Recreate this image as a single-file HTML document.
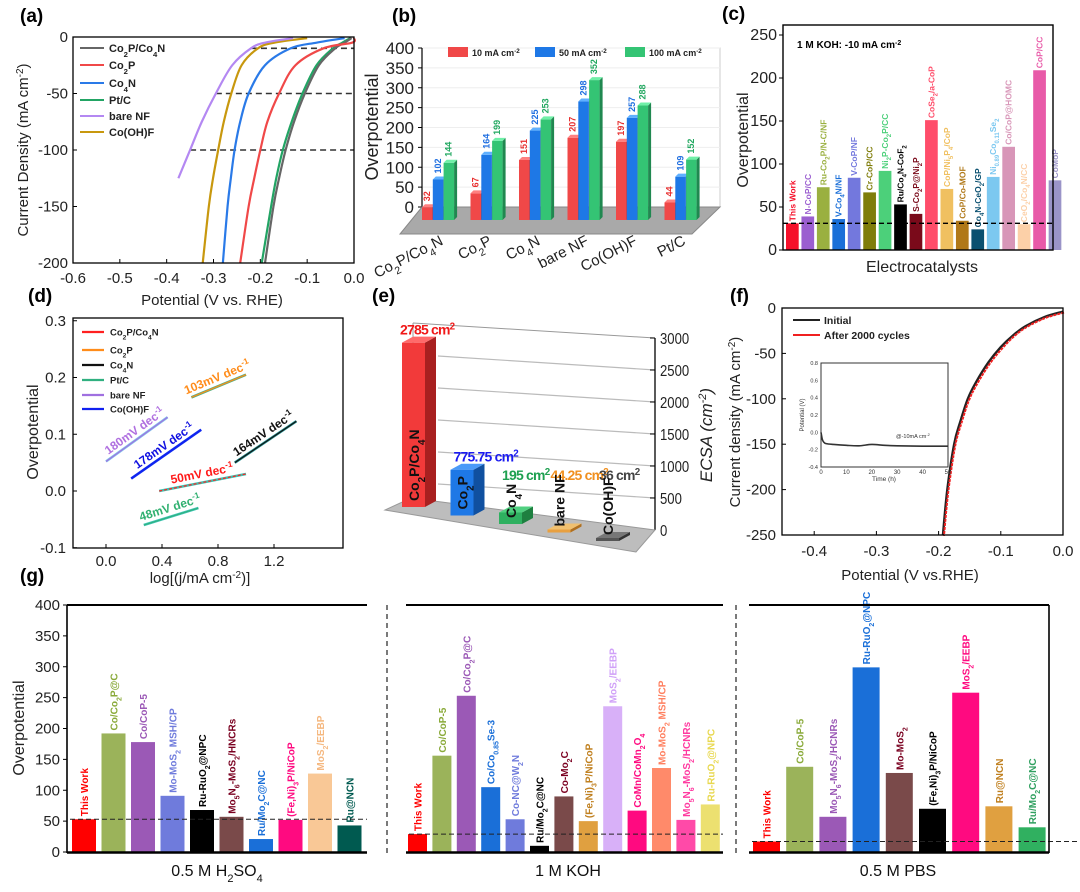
<!DOCTYPE html>
<html><head><meta charset="utf-8"><style>
html,body{margin:0;padding:0;background:#fff;}
svg{display:block;font-family:"Liberation Sans",Arial,sans-serif;}
</style></head><body>
<svg id="fig" width="1080" height="892" viewBox="0 0 1080 892" xmlns="http://www.w3.org/2000/svg">
<rect x="0" y="0" width="1080" height="892" fill="#fff"/>
<!-- panel labels -->
<text x="20" y="22" font-size="19" font-weight="bold">(a)</text>
<text x="392" y="22" font-size="19" font-weight="bold">(b)</text>
<text x="722" y="20" font-size="19" font-weight="bold">(c)</text>
<text x="28" y="302" font-size="19" font-weight="bold">(d)</text>
<text x="372" y="302" font-size="19" font-weight="bold">(e)</text>
<text x="730" y="302" font-size="19" font-weight="bold">(f)</text>
<text x="20" y="582" font-size="19" font-weight="bold">(g)</text>
<!-- axis titles -->
<text x="212" y="305" font-size="15" text-anchor="middle" fill="#222">Potential (V vs. RHE)</text>
<text transform="translate(28,150) rotate(-90)" font-size="15" text-anchor="middle" fill="#222">Current Density (mA cm<tspan baseline-shift="super" font-size="10">-2</tspan>)</text>
<text transform="translate(378,127) rotate(-90)" font-size="18" text-anchor="middle" fill="#222">Overpotential</text>
<text transform="translate(748,140) rotate(-90)" font-size="16" text-anchor="middle" fill="#222">Overpotential</text>
<text x="922" y="272" font-size="16" text-anchor="middle" fill="#222">Electrocatalysts</text>
<text x="797" y="48" font-size="10" font-weight="bold">1 M KOH: -10 mA cm<tspan baseline-shift="super" font-size="7">-2</tspan></text>
<text transform="translate(38,432) rotate(-90)" font-size="16" text-anchor="middle" fill="#222">Overpotential</text>
<text x="200" y="583" font-size="15" text-anchor="middle" fill="#222">log[(j/mA cm<tspan baseline-shift="super" font-size="10">-2</tspan>)]</text>
<text transform="translate(712,435) rotate(-90)" font-size="17" font-style="italic" text-anchor="middle" fill="#222">ECSA (cm<tspan baseline-shift="super" font-size="11">-2</tspan>)</text>
<text transform="translate(740,422) rotate(-90)" font-size="15" text-anchor="middle" fill="#222">Current density (mA cm<tspan baseline-shift="super" font-size="10">-2</tspan>)</text>
<text x="910" y="580" font-size="15" text-anchor="middle" fill="#222">Potential (V vs.RHE)</text>
<text transform="translate(24,728) rotate(-90)" font-size="16" text-anchor="middle" fill="#222">Overpotential</text>
<text x="217" y="876" font-size="16" text-anchor="middle" fill="#111">0.5 M H<tspan baseline-shift="sub" font-size="11">2</tspan>SO<tspan baseline-shift="sub" font-size="11">4</tspan></text>
<text x="568" y="876" font-size="16" text-anchor="middle" fill="#111">1 M KOH</text>
<text x="898" y="876" font-size="16" text-anchor="middle" fill="#111">0.5 M PBS</text>
</svg>
<script>
const NS='http://www.w3.org/2000/svg';
const svg=document.getElementById('fig');
function mk(tag,attrs,parent){const e=document.createElementNS(NS,tag);for(const k in attrs)e.setAttribute(k,attrs[k]);(parent||svg).appendChild(e);return e;}
function rich(el,s){const re=/([_^])(\{[^}]*\}|.)/g;let last=0,m;
 function add(t,mode){const ts=document.createElementNS(NS,'tspan');ts.textContent=t;if(mode){ts.setAttribute('baseline-shift',mode>0?'sub':'super');ts.setAttribute('font-size','70%');}el.appendChild(ts);}
 while((m=re.exec(s))){if(m.index>last)add(s.slice(last,m.index),0);let v=m[2];if(v[0]==='{')v=v.slice(1,-1);add(v,m[1]==='_'?1:-1);last=re.lastIndex;}
 if(last<s.length)add(s.slice(last),0);return el;}
function txt(x,y,s,attrs,parent){const t=mk('text',Object.assign({x:x,y:y},attrs||{}),parent);rich(t,s);return t;}
function smooth(pts){let d='M'+pts[0][0]+','+pts[0][1];for(let i=0;i<pts.length-1;i++){const p0=pts[i-1]||pts[i],p1=pts[i],p2=pts[i+1],p3=pts[i+2]||p2;
 d+=' C'+(p1[0]+(p2[0]-p0[0])/6)+','+(p1[1]+(p2[1]-p0[1])/6)+' '+(p2[0]-(p3[0]-p1[0])/6)+','+(p2[1]-(p3[1]-p1[1])/6)+' '+p2[0]+','+p2[1];}return d;}

/* ================= Panel (a) data ================= */
const aNames=['Co_2P/Co_4N','Co_2P','Co_4N','Pt/C','bare NF','Co(OH)F'];
const aJ=[-1,-5,-10,-25,-50,-75,-100,-125,-150,-200];
const aCo2PCo4N=[-0.005,-0.02,-0.04,-0.075,-0.105,-0.128,-0.146,-0.16,-0.172,-0.19];
const aCo2P=[0.0,-0.004,-0.065,-0.125,-0.16,-0.185,-0.2,-0.213,-0.225,-0.243];
const aCo4N=[-0.02,-0.08,-0.135,-0.19,-0.225,-0.243,-0.255,-0.263,-0.27,-0.28];
const aPtC=[-0.008,-0.025,-0.045,-0.08,-0.11,-0.133,-0.152,-0.166,-0.177,-0.197];
const aBareNF=[-0.13,-0.19,-0.22,-0.26,-0.295,-0.325,-0.35,-0.375,null,null];
const aCoOHF=[-0.1,-0.17,-0.205,-0.24,-0.262,-0.278,-0.29,-0.301,-0.31,-0.323];
const aRefLevels=[-10,-50,-100];
const aRefStart=[-0.22,-0.295,-0.35];
const aXTicks=[-0.6,-0.5,-0.4,-0.3,-0.2,-0.1,0.0];
const aYTicks=[0,-50,-100,-150,-200];
(function(){
 const ax=v=>73+(v+0.6)/0.6*281, ay=j=>37+(-j)/200*226;
 const series=[aCo2PCo4N,aCo2P,aCo4N,aPtC,aBareNF,aCoOHF];
 const cols=['#666','#f04848','#2a7ae8','#22a464','#b488f2','#c8980e'];
 const g=mk('g',{});
 
 
 aRefLevels.forEach((lv,i)=>{const l=mk('line',{x1:ax(aRefStart[i]),x2:ax(0),y1:ay(lv),y2:ay(lv),stroke:'#333','stroke-width':1.6,'stroke-dasharray':'6,4'},g);
  
  });
 [3,0,1,2,5,4].forEach(si=>{const pts=[];series[si].forEach((v,k)=>{if(v!==null)pts.push([ax(v),ay(aJ[k])]);});
  const p=mk('path',{d:smooth(pts),fill:'none',stroke:cols[si],'stroke-width':2.2},g);
  
  });
 const fr=mk('rect',{x:73,y:37,width:281,height:226,fill:'none',stroke:'#000','stroke-width':1.3},g);
 
 
 aXTicks.forEach(v=>{mk('line',{x1:ax(v),x2:ax(v),y1:263,y2:259,stroke:'#000'},g);
  const t=txt(ax(v),283,v.toFixed(1),{'font-size':15,'text-anchor':'middle',fill:'#222'},g);
  
  });
 aYTicks.forEach(v=>{mk('line',{x1:73,x2:77,y1:ay(v),y2:ay(v),stroke:'#000'},g);
  const t=txt(68,ay(v)+5,String(v),{'font-size':15,'text-anchor':'end',fill:'#222'},g);
  
  });
 const ly=[48,65,83,100,116,132];
 aNames.forEach((n,i)=>{const l=mk('line',{x1:80,x2:104,y1:ly[i],y2:ly[i],stroke:cols[i],'stroke-width':2},g);
  
  
  const t=txt(109,ly[i]+4,n,{'font-size':11,'font-weight':'bold',fill:'#222'},g);
  
  });
})();

/* ================= Panel (b) data ================= */
const bCategories=['Co_2P/Co_4N','Co_2P','Co_4N','bare NF','Co(OH)F','Pt/C'];
const b10=[32,67,151,207,197,44];
const b50=[102,164,225,298,257,109];
const b100=[144,199,253,352,288,152];
const bSeriesNames=['10 mA cm^{-2}','50 mA cm^{-2}','100 mA cm^{-2}'];
const bYTicks=[0,50,100,150,200,250,300,350,400];
(function(){
 const g=mk('g',{});
 
 
 const base=220,k=0.3975;
 mk('rect',{x:422,y:48,width:298,height:159,fill:'none',stroke:'#ccc','stroke-width':1},g);
 bYTicks.forEach(v=>{const y=207-v*k;mk('line',{x1:422,x2:720,y1:y,y2:y,stroke:'#eee'},g);mk('line',{x1:418,x2:422,y1:y,y2:y,stroke:'#000'},g);
  const t=txt(414,y+6,String(v),{'font-size':17,'text-anchor':'end',fill:'#222'},g);
  
  });
 mk('line',{x1:422,x2:422,y1:48,y2:207,stroke:'#000','stroke-width':1.2},g);
 const fl=mk('polygon',{points:'422,207 720,207 692,234 400,234',fill:'#a9a9a9',stroke:'#888'},g);
 
 
 const sets=[b10,b50,b100];
 const fc=['#f04848','#1e78e6','#34c474'],sc=['#b82828','#1252a8','#208850'],tc=['#ff8080','#5fb0ff','#70f0a8'];
 const lc=['#e83030','#1e6ee0','#22a860'];
 bCategories.forEach((c,i)=>{const gx=422+i*48.5;
  sets.forEach((arr,j)=>{const x=gx+j*10.8,w=10.5,h=arr[i]*k,top=base-h;
   const r=mk('rect',{x:x,y:top,width:w,height:h,fill:fc[j]},g);
   
   
   mk('polygon',{points:`${x+w},${top} ${x+w+3},${top-3} ${x+w+3},${base-3} ${x+w},${base}`,fill:sc[j]},g);
   mk('polygon',{points:`${x},${top} ${x+3},${top-3} ${x+w+3},${top-3} ${x+w},${top}`,fill:tc[j]},g);
   const t=txt(0,0,String(arr[i]),{'font-size':9,'font-weight':'bold',fill:lc[j],transform:`translate(${x+8},${top-6}) rotate(-90)`},g);
   
   });
  const t=txt(0,0,c,{'font-size':15,'text-anchor':'end',fill:'#222',transform:`translate(${gx+22},${244}) rotate(-27)`},g);
  
  });
 const lx=[448,535,625];
 bSeriesNames.forEach((n,j)=>{const r=mk('rect',{x:lx[j],y:47,width:20,height:10,fill:fc[j]},g);
  
  
  const t=txt(lx[j]+24,56,n,{'font-size':9,'font-weight':'bold',fill:'#222'},g);
  
  });
})();

/* ================= Panel (c) data ================= */
const cNames=['This Work','N-CoP/CC','Ru-Co_2P/N-C/NF','V-Co_4N/NF','V-CoP/NF','Cr-CoP/CC','Ni_2P-Co_2P/CC','Ru/Co_4N-CoF_2','S-Co_2P@Ni_2P','CoSe_2/a-CoP','CoP/Ni_5P_4/CoP','CoP/Co-MOF','Co_4N-CeO_2/GP','Ni_{0.89}Co_{0.11}Se_2','Co/CoP@HOMC','CeO_2/Co_4N/CC','CoP/CC','CoMoP'];
const cValues=[31,39,73,36,84,67,92,53,42,151,71,34,24,85,120,30,209,81];
const cColors=['#f5102a','#9b5fd0','#9ab040','#1a6fd8','#7378dd','#7f7d0a','#4cd07a','#000000','#7a0a1a','#ff4d6a','#f0c060','#b07818','#0a5070','#7cc8f0','#d896b8','#fcd0a8','#e85aa8','#9a94c8'];
const cRef=31;
const cYTicks=[0,50,100,150,200,250];
(function(){
 const g=mk('g',{});
 
 
 const cy=v=>250-v*0.86;
 cNames.forEach((n,i)=>{const x=786+i*15.45,w=12.7,y=cy(cValues[i]);
  const r=mk('rect',{x:x,y:y,width:w,height:250-y,fill:cColors[i]},g);
  
  
  const t=txt(0,0,n,{'font-size':8.5,'font-weight':'bold',fill:cColors[i],transform:`translate(${x+w/2+3},${y-2}) rotate(-90)`},g);
  
  });
 const d=mk('line',{x1:783,x2:1053,y1:cy(cRef),y2:cy(cRef),stroke:'#000','stroke-width':1.4,'stroke-dasharray':'5,3'},g);
 
 
 const fr=mk('rect',{x:783,y:25,width:270,height:225,fill:'none',stroke:'#000','stroke-width':1.4},g);
 
 
 cYTicks.forEach(v=>{mk('line',{x1:779,x2:783,y1:cy(v),y2:cy(v),stroke:'#000'},g);
  const t=txt(777,cy(v)+5,String(v),{'font-size':16,'text-anchor':'end',fill:'#222'},g);
  
  });
})();

/* ================= Panel (d) data ================= */
const dNames=['Co_2P/Co_4N','Co_2P','Co_4N','Pt/C','bare NF','Co(OH)F'];
const dSlopeLabels=['50mV dec^{-1}','103mV dec^{-1}','164mV dec^{-1}','48mV dec^{-1}','180mV dec^{-1}','178mV dec^{-1}'];
const dX1=[0.38,0.61,0.92,0.27,0.0,0.18];
const dY1=[0.0,0.165,0.05,-0.06,0.052,0.022];
const dX2=[1.0,1.0,1.36,0.66,0.44,0.68];
const dY2=[0.03,0.205,0.123,-0.03,0.13,0.108];
const dXTicks=[0.0,0.4,0.8,1.2];
const dYTicks=[-0.1,0.0,0.1,0.2,0.3];
(function(){
 const g=mk('g',{});
 
 
 const dx=v=>106+v*140, dy=v=>491-v*567.5;
 const lineCol=['#ff2020','#ff8c1a','#111','#30b080','#a070e0','#1020f0'];
 const fitCol=['#40c0b0','#50b080','#209090','#40c8b8','#80c8ec','#1030f0'];
 const labCol=['#ff1a1a','#ff8c1a','#111','#30b070','#b070e0','#1010e0'];
 dNames.forEach((n,i)=>{const x1=dx(dX1[i]),y1=dy(dY1[i]),x2=dx(dX2[i]),y2=dy(dY2[i]);
  const l=mk('line',{x1:x1,y1:y1,x2:x2,y2:y2,stroke:fitCol[i],'stroke-width':2.6},g);
  
  
  mk('line',{x1:x1,y1:y1,x2:x2,y2:y2,stroke:lineCol[i],'stroke-width':1.2,'stroke-dasharray':i===0?'3,2':''},g);
  const ang=Math.atan2(y2-y1,x2-x1)*180/Math.PI;
  const t=txt(0,0,dSlopeLabels[i],{'font-size':12,'font-weight':'bold','text-anchor':'middle',fill:labCol[i],transform:`translate(${(x1+x2)/2},${(y1+y2)/2-5}) rotate(${ang})`},g);
  
  });
 const fr=mk('rect',{x:73,y:318,width:270,height:230,fill:'none',stroke:'#000','stroke-width':1.3},g);
 
 
 dXTicks.forEach(v=>{mk('line',{x1:dx(v),x2:dx(v),y1:548,y2:544,stroke:'#000'},g);
  const t=txt(dx(v),566,v.toFixed(1),{'font-size':15,'text-anchor':'middle',fill:'#222'},g);
  
  });
 dYTicks.forEach(v=>{mk('line',{x1:73,x2:77,y1:dy(v),y2:dy(v),stroke:'#000'},g);
  const t=txt(66,dy(v)+5,v.toFixed(1),{'font-size':15,'text-anchor':'end',fill:'#222'},g);
  
  });
 const ly=[332,350,365,380,395,409];
 dNames.forEach((n,i)=>{const l=mk('line',{x1:82,x2:104,y1:ly[i],y2:ly[i],stroke:lineCol[i],'stroke-width':2.2},g);
  
  
  const t=txt(110,ly[i]+3.5,n,{'font-size':9.5,'font-weight':'bold',fill:'#222'},g);
  
  });
})();

/* ================= Panel (e) data ================= */
const eNames=['Co_2P/Co_4N','Co_2P','Co_4N','bare NF','Co(OH)F'];
const eValues=[2785,775.75,195,44.25,36];
const eValueLabels=['2785 cm^2','775.75 cm^2','195 cm^2','44.25 cm^2','36 cm^2'];
const eYTicks=[0,500,1000,1500,2000,2500,3000];
(function(){
 const g=mk('g',{});
 
 
 const ey=v=>530-v*0.064;
 mk('line',{x1:413,y1:323,x2:655,y2:338,stroke:'#999','stroke-width':1},g);
 mk('line',{x1:413,y1:323,x2:413,y2:498,stroke:'#999','stroke-width':1},g);
 eYTicks.forEach(v=>{const y=ey(v);
  if(v>0&&v<3000)mk('line',{x1:438,y1:y-14,x2:655,y2:y,stroke:'#bbb','stroke-width':1.2},g);
  mk('line',{x1:655,x2:650,y1:y,y2:y,stroke:'#000'},g);
  const t=txt(660,y+6,String(v),{'font-size':16,fill:'#222',transform:`translate(${660*0.18},0) scale(0.82,1)`,x:660,y:y+6},g);
  
  });
 mk('line',{x1:655,x2:655,y1:338,y2:530,stroke:'#000','stroke-width':1.3},g);
 const fl=mk('polygon',{points:'411,498 655,530 636,552 385,510',fill:'#bdbdbd',stroke:'#999'},g);
 
 
 const fc=['#f23a3a','#1e78e6','#2fb060','#e8a040','#555'],sc=['#a82020','#1050a0','#1e8040','#b07020','#333'],tc=['#ff6a6a','#4a9af8','#50d080','#f0c070','#777'];
 const lc=['#f01818','#1a1af0','#1ea050','#f09020','#444'];
 eNames.forEach((n,i)=>{const x=402+i*48.5,w=23,bot=507+i*8.5,h=Math.max(eValues[i]*0.059,3),top=bot-h;
  mk('polygon',{points:`${x+w},${top} ${x+w+11},${top-6} ${x+w+11},${bot-6} ${x+w},${bot}`,fill:sc[i]},g);
  mk('polygon',{points:`${x},${top} ${x+11},${top-6} ${x+w+11},${top-6} ${x+w},${top}`,fill:tc[i]},g);
  const r=mk('rect',{x:x,y:top,width:w,height:h,fill:fc[i]},g);
  
  
  const vl=txt(x+(i===0?-2:3),Math.min(top-8,480),eValueLabels[i],{'font-size':14,'font-weight':'bold',fill:lc[i],'letter-spacing':'-0.8'},g);
  
  
  const t=txt(0,0,n,{'font-size':14,'font-weight':'bold',fill:'#111',transform:`translate(${x+17},${bot-6}) rotate(-90)`},g);
  
  });
})();

/* ================= Panel (f) data ================= */
const fV=[0,-0.03,-0.06,-0.08,-0.1,-0.12,-0.14,-0.153,-0.165,-0.175,-0.186,-0.193];
const fInitial=[-4,-10,-20,-30,-43,-60,-82,-100,-125,-150,-200,-250];
const fAfter=[-5,-11,-21,-31,-45,-62,-84,-102,-127,-152,-202,-251];
const fXTicks=[-0.4,-0.3,-0.2,-0.1,0.0];
const fYTicks=[0,-50,-100,-150,-200,-250];
const fInsetT=[0,0.5,1,2,5,10,15,20,25,30,40,50];
const fInsetE=[0.0,-0.08,-0.11,-0.13,-0.14,-0.15,-0.155,-0.14,-0.15,-0.155,-0.16,-0.16];
const fInsetXTicks=[0,10,20,30,40,50];
const fInsetYTicks=[-0.4,-0.2,0.0,0.2,0.4,0.6,0.8];
(function(){
 const g=mk('g',{});
 
 
 const fx=v=>1063+v*622, fy=j=>308-j*0.908;
 const p1=mk('path',{d:smooth(fV.map((v,i)=>[fx(v),fy(fInitial[i])])),fill:'none',stroke:'#222','stroke-width':2.4},g);
 
 
 const p2=mk('path',{d:smooth(fV.map((v,i)=>[fx(v)+1,fy(fAfter[i])])),fill:'none',stroke:'#f02020','stroke-width':2,'stroke-dasharray':'3,1'},g);
 
 
 const fr=mk('rect',{x:782,y:308,width:281,height:227,fill:'none',stroke:'#000','stroke-width':1.3},g);
 
 
 fXTicks.forEach(v=>{mk('line',{x1:fx(v),x2:fx(v),y1:535,y2:531,stroke:'#000'},g);
  const t=txt(fx(v),556,v.toFixed(1),{'font-size':15,'text-anchor':'middle',fill:'#222'},g);
  
  });
 fYTicks.forEach(v=>{mk('line',{x1:782,x2:786,y1:fy(v),y2:fy(v),stroke:'#000'},g);
  const t=txt(776,fy(v)+5,String(v),{'font-size':15,'text-anchor':'end',fill:'#222'},g);
  
  });
 const lg=[['Initial','#222',320],['After 2000 cycles','#f02020',335]];
 lg.forEach(e=>{const l=mk('line',{x1:793,x2:820,y1:e[2],y2:e[2],stroke:e[1],'stroke-width':2},g);
  
  
  const t=txt(824,e[2]+4,e[0],{'font-size':10.5,'font-weight':'bold',fill:'#222'},g);
  
  });
 // inset
 const ix=t=>821+t/50*127, iy=v=>467-(v+0.4)/1.2*104;
 const ib=mk('rect',{x:821,y:363,width:127,height:104,fill:'#fff',stroke:'#333','stroke-width':1},g);
 
 
 const ip=mk('path',{d:smooth(fInsetT.map((t,i)=>[ix(t),iy(fInsetE[i])])),fill:'none',stroke:'#333','stroke-width':1.6},g);
 
 
 fInsetXTicks.forEach(v=>{const t=txt(ix(v),474,String(v),{'font-size':6,'text-anchor':'middle',fill:'#333'},g);
  
  });
 fInsetYTicks.forEach(v=>{const t=txt(818,iy(v)+2,v.toFixed(1),{'font-size':5.5,'text-anchor':'end',fill:'#333'},g);
  
  });
 const it=txt(884,481,'Time (h)',{'font-size':6.5,'text-anchor':'middle',fill:'#333'},g);
 
 
 const iyt=txt(0,0,'Potential (V)',{'font-size':6,'text-anchor':'middle',fill:'#333',transform:'translate(804,415) rotate(-90)'},g);
 
 
 const il=txt(896,438,'@-10mA cm^{-2}',{'font-size':5.5,fill:'#333'},g);
 
 
})();

/* ================= Panel (g) data ================= */
const gAcidNames=['This Work','Co/Co_2P@C','Co/CoP-5','Mo-MoS_2 MSH/CP','Ru-RuO_2@NPC','Mo_5N_6-MoS_2/HNCRs','Ru/Mo_2C@NC','(Fe,Ni)_3P/NiCoP','MoS_2/EEBP','Ru@NCN'];
const gAcidValues=[53,192,178,91,68,57,21,52,127,43];
const gAcidColors=['#ff0000','#9bb35a','#9b59b6','#6f7bdc','#000000','#7a4a4a','#1a6fd8','#ff0a80','#f9c896','#005a50'];
const gAcidLabelColors=['#ff0000','#8aaa3a','#9b59b6','#6f7bdc','#000000','#7a0020','#1a6fd8','#ff0a80','#f5b880','#005a50'];
const gAlkNames=['This Work','Co/CoP-5','Co/Co_2P@C','Co/Co_{0.85}Se-3','Co-NC@W_2N','Ru/Mo_2C@NC','Co-Mo_2C','(Fe,Ni)_3P/NiCoP','MoS_2/EEBP','CoMn/CoMn_2O_4','Mo-MoS_2 MSH/CP','Mo_5N_6-MoS_2/HCNRs','Ru-RuO_2@NPC'];
const gAlkValues=[29,156,253,105,53,10,90,50,236,67,136,52,77];
const gAlkColors=['#ff0000','#9bb35a','#9b59b6','#1a6fd8','#6f7bdc','#000000','#7a4a4a','#e0a040','#d8b0f8','#ff0a80','#ff8a6a','#ff4aa8','#ece070'];
const gAlkLabelColors=['#ff0000','#8aaa3a','#9b59b6','#1a6fd8','#6f7bdc','#000000','#7a0020','#c08020','#d0a0f8','#ff0a80','#ff8060','#ff3aa0','#e8d850'];
const gNeutNames=['This Work','Co/CoP-5','Mo_5N_6-MoS_2/HCNRs','Ru-RuO_2@NPC','Mo-MoS_2','(Fe,Ni)_3P/NiCoP','MoS_2/EEBP','Ru@NCN','Ru/Mo_2C@NC'];
const gNeutValues=[17,138,57,299,128,70,258,74,40];
const gNeutColors=['#ff0000','#9bb35a','#9b59b6','#1a6fd8','#7a4a4a','#000000','#ff0a80','#e0a040','#30b060'];
const gNeutLabelColors=['#ff0000','#8aaa3a','#9b59b6','#1a6fd8','#7a0020','#000000','#ff0a80','#c08020','#30a060'];
const gRefs=[53,29,17];
const gYTicks=[0,50,100,150,200,250,300,350,400];
(function(){
 const g=mk('g',{});
 
 
 const gy=v=>852-v*0.6175;
 const groups=[
  {names:gAcidNames,vals:gAcidValues,cols:gAcidColors,lcols:gAcidLabelColors,x0:72,step:29.5,w:24,ax0:67,ax1:367,refEnd:367},
  {names:gAlkNames,vals:gAlkValues,cols:gAlkColors,lcols:gAlkLabelColors,x0:408,step:24.4,w:19,ax0:406,ax1:723,refEnd:723},
  {names:gNeutNames,vals:gNeutValues,cols:gNeutColors,lcols:gNeutLabelColors,x0:753,step:33.2,w:27,ax0:749,ax1:1049,refEnd:1080}];
 groups.forEach((G,gi)=>{
  G.names.forEach((n,i)=>{const x=G.x0+i*G.step,y=gy(G.vals[i]);
   const r=mk('rect',{x:x,y:y,width:G.w,height:852-y,fill:G.cols[i]},g);
   
   
   const t=txt(0,0,n,{'font-size':10,'font-weight':'bold',fill:G.lcols[i],transform:`translate(${x+G.w/2+4},${y-3}) rotate(-90)`},g);
   
   });
  const d=mk('line',{x1:G.ax0+3,x2:G.refEnd,y1:gy(gRefs[gi]),y2:gy(gRefs[gi]),stroke:'#222','stroke-width':1,'stroke-dasharray':'5,3'},g);
  
  
  const tl=mk('line',{x1:G.ax0,x2:G.ax1,y1:605,y2:605,stroke:'#000','stroke-width':2},g);
  
  
  const bl=mk('line',{x1:G.ax0,x2:G.ax1,y1:852.5,y2:852.5,stroke:'#000','stroke-width':2.5},g);
  
  });
 mk('line',{x1:1049,x2:1049,y1:605,y2:853,stroke:'#000','stroke-width':1.6},g);
 mk('line',{x1:67,x2:67,y1:605,y2:853,stroke:'#000','stroke-width':1.6},g);
 [387,736].forEach(x=>{const s=mk('line',{x1:x,x2:x,y1:605,y2:853,stroke:'#222','stroke-width':1.2,'stroke-dasharray':'5,4'},g);
  
  });
 gYTicks.forEach(v=>{mk('line',{x1:63,x2:67,y1:gy(v),y2:gy(v),stroke:'#000'},g);
  const t=txt(60,gy(v)+5,String(v),{'font-size':15,'text-anchor':'end',fill:'#222'},g);
  
  });
})();
</script>
</body></html>
